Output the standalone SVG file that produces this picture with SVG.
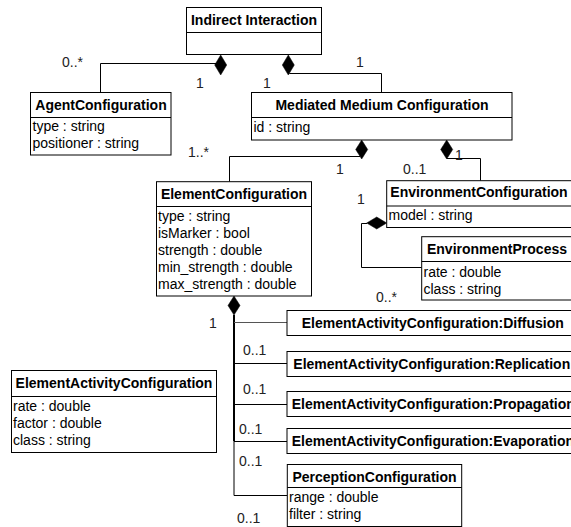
<svg xmlns="http://www.w3.org/2000/svg" width="571" height="527" viewBox="0 0 571 527">
<style>
.box{fill:#fff;stroke:#000;stroke-width:1}
.sep{stroke:#000;stroke-width:1}
.t{font-family:"Liberation Sans",Arial,sans-serif;font-size:14px;font-weight:bold;fill:#000;text-anchor:middle}
.tl{font-family:"Liberation Sans",Arial,sans-serif;font-size:14px;font-weight:bold;fill:#000}
.a{font-family:"Liberation Sans",Arial,sans-serif;font-size:14px;fill:#000}
.m{font-family:"Liberation Sans",Arial,sans-serif;font-size:14px;fill:#222}
.ln{fill:none;stroke:#000;stroke-width:1}
.dm{fill:#000;stroke:#000;stroke-width:0.5}
</style>
<rect width="571" height="527" fill="#fff"/>
<g id="connectors">
<path class="ln" d="M216 63.5 H100.5 V92"/>
<path class="ln" d="M289.3 73.5 H381.5 V92"/>
<path class="ln" d="M360 156.5 H229.5 V181.7"/>
<path class="ln" d="M447 158.5 H480.5 V180.7"/>
<path class="ln" d="M367 223.5 H361.5 V267.5 H421.7"/>
<path class="ln" d="M234 315 V441" style="stroke-width:2"/>
<path class="ln" d="M234 441 V495.5"/>
<path class="ln" d="M234 322.5 H287" style="stroke:#555"/>
<path class="ln" d="M234 363.5 H287"/>
<path class="ln" d="M234 404.5 H287"/>
<path class="ln" d="M234 441.5 H287"/>
<path class="ln" d="M234 495.5 H287.3"/>
<polygon class="dm" points="220.7,55 226.7,65 220.7,75 214.7,65"/>
<polygon class="dm" points="288.3,55 294.3,65 288.3,75 282.3,65"/>
<polygon class="dm" points="361.7,140 367.7,149.5 361.7,159 355.7,149.5"/>
<polygon class="dm" points="446.7,140 452.7,149.5 446.7,159 440.7,149.5"/>
<polygon class="dm" points="234,296 240,305.5 234,315 228,305.5"/>
<polygon class="dm" points="366.7,223 376.7,217 386.7,223 376.7,229"/>
<text class="m" x="62" y="67">0..*</text>
<text class="m" x="196" y="88">1</text>
<text class="m" x="263" y="88">1</text>
<text class="m" x="356" y="67">1</text>
<text class="m" x="188" y="157">1..*</text>
<text class="m" x="336" y="174">1</text>
<text class="m" x="403" y="174">0..1</text>
<text class="m" x="455" y="160">1</text>
<text class="m" x="357" y="204">1</text>
<text class="m" x="376" y="302">0..*</text>
<text class="m" x="209" y="328">1</text>
<text class="m" x="243" y="355">0..1</text>
<text class="m" x="243" y="394">0..1</text>
<text class="m" x="239" y="434">0..1</text>
<text class="m" x="239" y="466">0..1</text>
<text class="m" x="237" y="523">0..1</text>
</g>
<g id="indirect-interaction">
<rect class="box" x="186.5" y="7.5" width="135" height="47"/>
<line class="sep" x1="186.5" y1="32.5" x2="321.5" y2="32.5"/>
<text class="t" x="254" y="25">Indirect Interaction</text>
</g>
<g id="agent-configuration">
<rect class="box" x="30.5" y="92.5" width="140.5" height="62.5"/>
<line class="sep" x1="30.5" y1="117.5" x2="171" y2="117.5"/>
<text class="t" x="101" y="110">AgentConfiguration</text>
<text class="a" x="32.5" y="131">type : string</text>
<text class="a" x="32.5" y="148">positioner : string</text>
</g>
<g id="mediated-medium-configuration">
<rect class="box" x="251.5" y="92.5" width="260.5" height="47.5"/>
<line class="sep" x1="251.5" y1="117.5" x2="512" y2="117.5"/>
<text class="t" x="382" y="110">Mediated Medium Configuration</text>
<text class="a" x="253.5" y="131.5">id : string</text>
</g>
<g id="element-configuration">
<rect class="box" x="156.5" y="181.7" width="155" height="114.3"/>
<line class="sep" x1="156.5" y1="206.5" x2="311.5" y2="206.5"/>
<text class="t" x="234" y="199">ElementConfiguration</text>
<text class="a" x="158" y="220.7">type : string</text>
<text class="a" x="158" y="237.7">isMarker : bool</text>
<text class="a" x="158" y="254.7">strength : double</text>
<text class="a" x="158" y="271.7">min_strength : double</text>
<text class="a" x="158" y="288.7">max_strength : double</text>
</g>
<g id="environment-configuration">
<rect class="box" x="386.7" y="180.7" width="186" height="46.8"/>
<line class="sep" x1="386.7" y1="206" x2="572.7" y2="206"/>
<text class="t" x="479" y="197">EnvironmentConfiguration</text>
<text class="a" x="388.5" y="220">model : string</text>
</g>
<g id="environment-process">
<rect class="box" x="421.7" y="236.7" width="151" height="63.3"/>
<line class="sep" x1="421.7" y1="261.5" x2="572.7" y2="261.5"/>
<text class="t" x="497" y="254">EnvironmentProcess</text>
<text class="a" x="423.5" y="277">rate : double</text>
<text class="a" x="423.5" y="294">class : string</text>
</g>
<g id="eac-diffusion">
<rect class="box" x="287" y="310.5" width="295" height="25"/>
<text class="tl" x="301.7" y="327.5">ElementActivityConfiguration:Diffusion</text>
</g>
<g id="eac-replication">
<rect class="box" x="287" y="351.5" width="295" height="25"/>
<text class="tl" x="293.3" y="368.5">ElementActivityConfiguration:Replication</text>
</g>
<g id="eac-propagation">
<rect class="box" x="287" y="391.5" width="295" height="25"/>
<text class="tl" x="291.7" y="408.5">ElementActivityConfiguration:Propagation</text>
</g>
<g id="eac-evaporation">
<rect class="box" x="287" y="428.5" width="295" height="25"/>
<text class="tl" x="291.7" y="445.5">ElementActivityConfiguration:Evaporation</text>
</g>
<g id="perception-configuration">
<rect class="box" x="287.3" y="464.5" width="174.4" height="62"/>
<line class="sep" x1="287.3" y1="487.5" x2="461.7" y2="487.5"/>
<text class="t" x="374.5" y="481.5">PerceptionConfiguration</text>
<text class="a" x="289" y="501.5">range : double</text>
<text class="a" x="289" y="518.5">filter : string</text>
</g>
<g id="element-activity-configuration">
<rect class="box" x="11.5" y="370.5" width="205" height="82"/>
<line class="sep" x1="11.5" y1="396.5" x2="216.5" y2="396.5"/>
<text class="t" x="114" y="388">ElementActivityConfiguration</text>
<text class="a" x="13" y="411">rate : double</text>
<text class="a" x="13" y="428">factor : double</text>
<text class="a" x="13" y="445">class : string</text>
</g>
</svg>
